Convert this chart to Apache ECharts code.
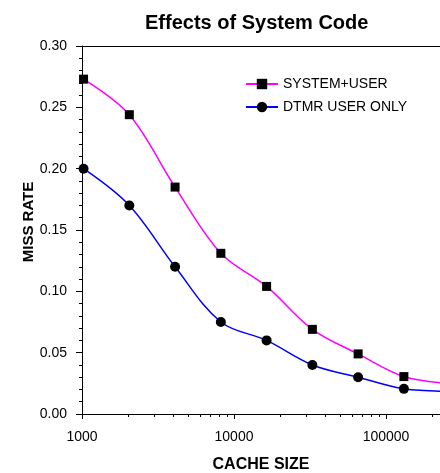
<!DOCTYPE html>
<html>
<head>
<meta charset="utf-8">
<script src="https://cdn.jsdelivr.net/npm/echarts@6/dist/echarts.min.js"></script>
<style>
html,body{margin:0;padding:0;background:#fff;}
#chart{width:440px;height:473px;}
</style>
</head>
<body>
<div id="chart"></div>
<script>
// Data
var cacheSizes = [1024, 2048, 4096, 8192, 16384, 32768, 65536, 131072, 262144];
var systemUser = [0.273, 0.244, 0.185, 0.131, 0.104, 0.069, 0.049, 0.0305, 0.025];
var userOnly   = [0.200, 0.170, 0.120, 0.075, 0.060, 0.040, 0.030, 0.0205, 0.0185];
var markerCount = 8; // last point lies beyond the visible area (no marker)
var minorXTicks = [2000,3000,4000,5000,6000,7000,8000,9000,
                   20000,30000,40000,50000,60000,70000,80000,90000,
                   200000];
var xMin = 1000, xMax = 226500;
var yMin = 0, yMax = 0.30, yStep = 0.05;

function pairs(xs, ys) {
  return xs.map(function (x, i) {
    var d = { value: [x, ys[i]] };
    if (i >= markerCount) d.symbol = 'none';
    return d;
  });
}

var FONT = '"Liberation Sans", Arial, sans-serif';
var chart = echarts.init(document.getElementById('chart'), null, { renderer: 'canvas' });
chart.setOption({
  animation: false,
  backgroundColor: '#ffffff',
  title: {
    text: 'Effects of System Code',
    left: 140,
    top: 8,
    textStyle: { fontFamily: FONT, fontSize: 20, fontWeight: 'bold', color: '#000' }
  },
  legend: {
    orient: 'vertical',
    left: 240,
    top: 72,
    itemWidth: 32,
    itemHeight: 13,
    itemGap: 9,
    textStyle: { fontFamily: FONT, fontSize: 14, color: '#000' },
    data: ['SYSTEM+USER', 'DTMR USER ONLY']
  },
  grid: { left: 82, right: 0, top: 46, bottom: 59, containLabel: false, outerBoundsMode: 'none' },
  xAxis: [{
    type: 'log',
    logBase: 10,
    min: xMin,
    max: xMax,
    position: 'bottom',
    name: 'CACHE SIZE',
    nameLocation: 'middle',
    nameGap: 43,
    nameMoveOverlap: false,
    nameTextStyle: { fontFamily: FONT, fontSize: 16, fontWeight: 'bold', color: '#000', verticalAlign: 'top' },
    axisLine: { show: true, lineStyle: { color: '#000', width: 1 } },
    axisTick: { show: true, length: 5, lineStyle: { color: '#000', width: 1 } },
    axisLabel: {
      fontFamily: FONT, fontSize: 14, color: '#000', margin: 16, showMaxLabel: false,
      formatter: function (v) { return String(Math.round(v)); }
    },
    splitLine: { show: false }
  }, {
    // helper axis in log10 space, used only to draw the minor ticks
    type: 'value',
    min: Math.log10(xMin),
    max: Math.log10(xMax),
    position: 'bottom',
    axisLine: { show: false },
    axisTick: {
      show: true, length: 3, lineStyle: { color: '#000', width: 1 },
      customValues: minorXTicks.map(function (v) { return Math.log10(v); })
    },
    axisLabel: { show: false },
    splitLine: { show: false }
  }, {
    type: 'value',
    min: 0,
    max: 1,
    position: 'top',
    axisLine: { show: true, lineStyle: { color: '#000', width: 1 } },
    axisTick: { show: false },
    axisLabel: { show: false },
    splitLine: { show: false }
  }],
  yAxis: {
    type: 'value',
    min: yMin,
    max: yMax,
    interval: yStep,
    name: 'MISS RATE',
    nameLocation: 'middle',
    nameGap: 46,
    nameMoveOverlap: false,
    nameTextStyle: { fontFamily: FONT, fontSize: 15, fontWeight: 'bold', color: '#000', padding: [0, 0, 0, 16] },
    axisLine: { show: true, lineStyle: { color: '#000', width: 1 } },
    axisTick: { show: true, length: 6, lineStyle: { color: '#000', width: 1 } },
    minorTick: { show: true, splitNumber: 5, length: 3, lineStyle: { color: '#000', width: 1 } },
    axisLabel: {
      fontFamily: FONT, fontSize: 14, color: '#000', margin: 15,
      formatter: function (v) { return v.toFixed(2); }
    },
    splitLine: { show: false }
  },
  series: [{
    name: 'SYSTEM+USER',
    type: 'line',
    xAxisIndex: 0,
    data: pairs(cacheSizes, systemUser),
    smooth: 0.35,
    symbol: 'rect',
    symbolSize: 9,
    itemStyle: { color: '#000' },
    lineStyle: { color: '#ff00ff', width: 1.5 },
    clip: true
  }, {
    name: 'DTMR USER ONLY',
    type: 'line',
    xAxisIndex: 0,
    data: pairs(cacheSizes, userOnly),
    smooth: 0.35,
    symbol: 'circle',
    symbolSize: 10,
    itemStyle: { color: '#000' },
    lineStyle: { color: '#0000ff', width: 1.5 },
    clip: true
  }]
});
</script>
</body>
</html>
